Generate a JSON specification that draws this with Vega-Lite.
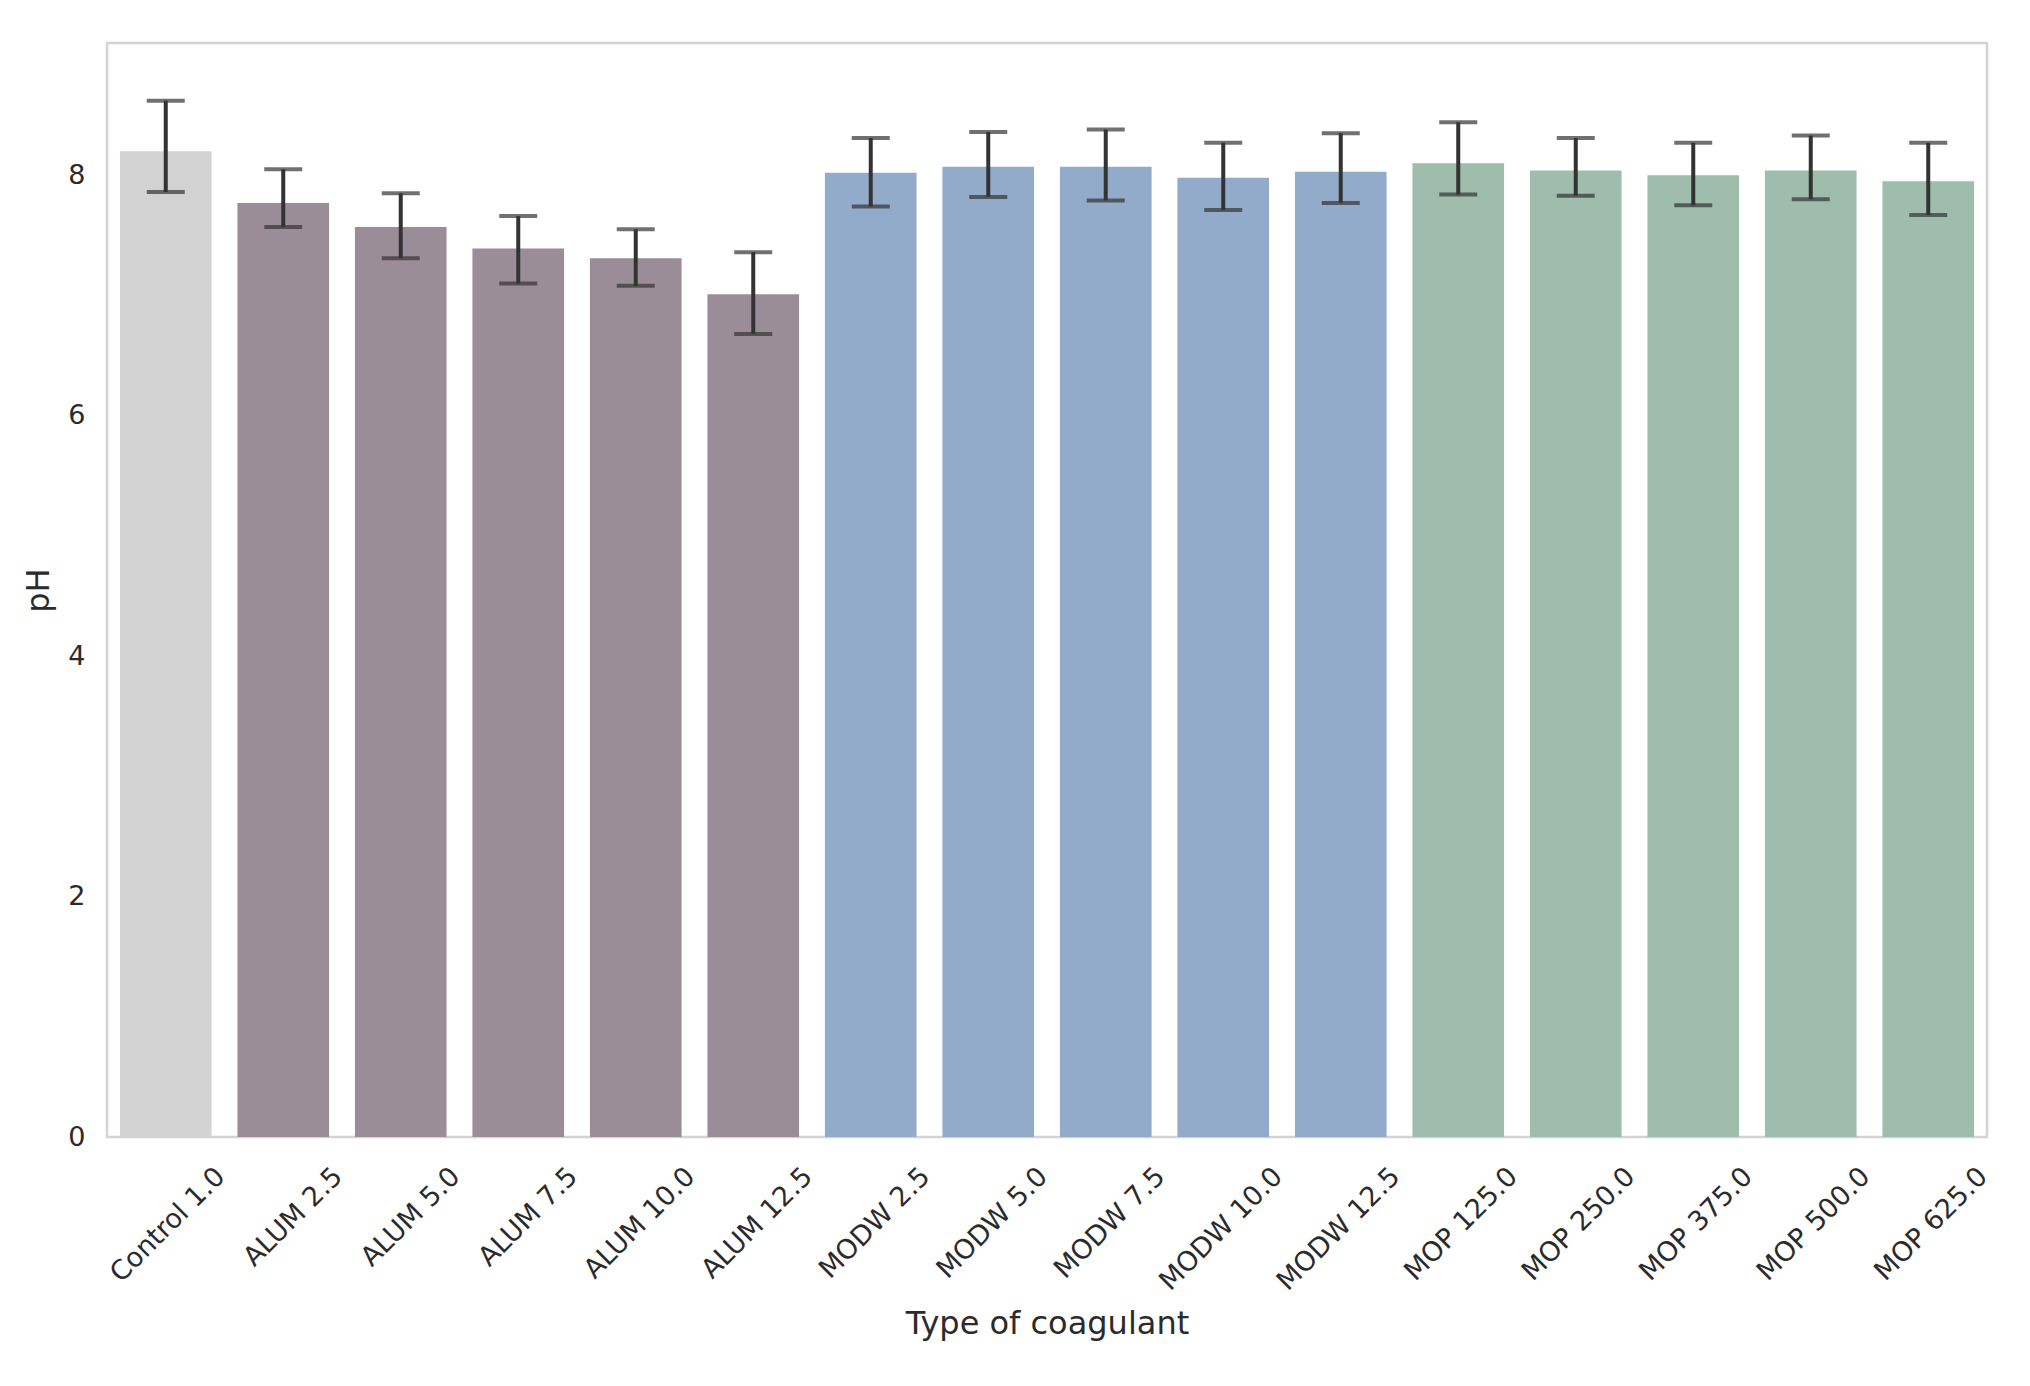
{
  "$schema": "https://vega.github.io/schema/vega-lite/v6.json",
  "width": 1880,
  "height": 1094,
  "autosize": "none",
  "padding": {"left": 107, "top": 43, "right": 43, "bottom": 249},
  "background": "white",
  "config": {
    "font": "DejaVu Sans",
    "view": {"stroke": "#d3d3d3", "strokeWidth": 2.5},
    "axis": {
      "domain": false,
      "ticks": false,
      "grid": false,
      "labelFont": "DejaVu Sans",
      "titleFont": "DejaVu Sans",
      "labelColor": "#2b2b2b",
      "titleColor": "#2b2b2b",
      "labelFontSize": 27,
      "titleFontSize": 32,
      "titleFontWeight": "normal"
    }
  },
  "data": {
    "values": [
      {"coagulant": "Control 1.0", "group": "Control", "ph": 8.20, "lo": 7.86, "hi": 8.62},
      {"coagulant": "ALUM 2.5", "group": "ALUM", "ph": 7.77, "lo": 7.57, "hi": 8.05},
      {"coagulant": "ALUM 5.0", "group": "ALUM", "ph": 7.57, "lo": 7.31, "hi": 7.85},
      {"coagulant": "ALUM 7.5", "group": "ALUM", "ph": 7.39, "lo": 7.10, "hi": 7.66},
      {"coagulant": "ALUM 10.0", "group": "ALUM", "ph": 7.31, "lo": 7.08, "hi": 7.55},
      {"coagulant": "ALUM 12.5", "group": "ALUM", "ph": 7.01, "lo": 6.68, "hi": 7.36},
      {"coagulant": "MODW 2.5", "group": "MODW", "ph": 8.02, "lo": 7.74, "hi": 8.31},
      {"coagulant": "MODW 5.0", "group": "MODW", "ph": 8.07, "lo": 7.82, "hi": 8.36},
      {"coagulant": "MODW 7.5", "group": "MODW", "ph": 8.07, "lo": 7.79, "hi": 8.38},
      {"coagulant": "MODW 10.0", "group": "MODW", "ph": 7.98, "lo": 7.71, "hi": 8.27},
      {"coagulant": "MODW 12.5", "group": "MODW", "ph": 8.03, "lo": 7.77, "hi": 8.35},
      {"coagulant": "MOP 125.0", "group": "MOP", "ph": 8.10, "lo": 7.84, "hi": 8.44},
      {"coagulant": "MOP 250.0", "group": "MOP", "ph": 8.04, "lo": 7.83, "hi": 8.31},
      {"coagulant": "MOP 375.0", "group": "MOP", "ph": 8.00, "lo": 7.75, "hi": 8.27},
      {"coagulant": "MOP 500.0", "group": "MOP", "ph": 8.04, "lo": 7.80, "hi": 8.33},
      {"coagulant": "MOP 625.0", "group": "MOP", "ph": 7.95, "lo": 7.67, "hi": 8.27}
    ]
  },
  "encoding": {
    "x": {
      "field": "coagulant",
      "type": "nominal",
      "sort": null,
      "title": "Type of coagulant",
      "scale": {"paddingInner": 0.22, "paddingOuter": 0.11},
      "axis": {"labelAngle": -45, "labelAlign": "right", "labelBaseline": "middle", "labelPadding": 35, "labelOffset": 55, "titlePadding": 14}
    }
  },
  "layer": [
    {
      "mark": {"type": "bar"},
      "encoding": {
        "y": {
          "field": "ph",
          "type": "quantitative",
          "title": "pH",
          "scale": {"domain": [0, 9.1], "nice": false, "zero": true},
          "axis": {"values": [0, 2, 4, 6, 8], "format": "d", "labelPadding": 22, "titlePadding": 12}
        },
        "color": {
          "field": "group",
          "type": "nominal",
          "scale": {"domain": ["Control", "ALUM", "MODW", "MOP"], "range": ["#d3d3d3", "#9b8d97", "#93abca", "#9ebdad"]},
          "legend": null
        }
      }
    },
    {
      "mark": {"type": "rule", "color": "#333333", "strokeWidth": 4},
      "encoding": {
        "y": {"field": "lo", "type": "quantitative"},
        "y2": {"field": "hi"}
      }
    },
    {
      "mark": {"type": "tick", "color": "#333333", "thickness": 4, "size": 38, "orient": "horizontal"},
      "encoding": {
        "y": {"field": "lo", "type": "quantitative"}
      }
    },
    {
      "mark": {"type": "tick", "color": "#333333", "thickness": 4, "size": 38, "orient": "horizontal"},
      "encoding": {
        "y": {"field": "hi", "type": "quantitative"}
      }
    }
  ]
}
